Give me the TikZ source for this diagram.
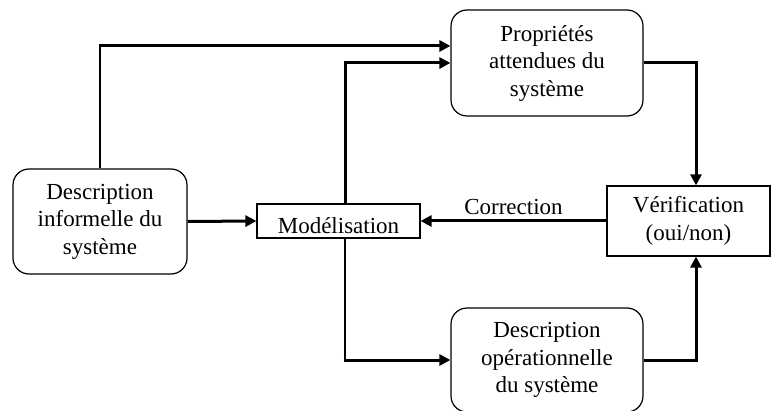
\documentclass[tikz,border=0pt]{standalone}
\usepackage{fontspec}
\setmainfont{Liberation Serif}
\usepackage{tikz}
\usetikzlibrary{arrows.meta}

\begin{document}
\begin{tikzpicture}[x=1pt,y=1pt,
  every node/.style={font=\fontsize{23}{27.5}\selectfont,align=center,inner sep=0pt},
  roundbox/.style={draw,line width=1.2pt,rounded corners=16pt},
  plainbox/.style={draw,line width=1.2pt},
  arr/.style={line width=3pt,-{Triangle[length=11pt,width=11pt]}},
  thinline/.style={line width=1.2pt}]
\useasboundingbox (0,0) rectangle (771,410);
% boxes
\node[roundbox,minimum width=174pt,minimum height=105pt] (informelle) at (100,188.5) {Description\\informelle du\\syst\`eme};
\node[plainbox,minimum width=163pt,minimum height=34pt,text height=26pt,text depth=0pt] (modelisation) at (338.5,189) {Mod\'elisation};
\node[roundbox,minimum width=192pt,minimum height=106pt] (proprietes) at (547,347) {Propri\'et\'es\\attendues du\\syst\`eme};
\node[plainbox,minimum width=163pt,minimum height=70pt] (verification) at (688.5,189) {V\'erification\\(oui/non)};
\node[roundbox,minimum width=192pt,minimum height=104pt] (operationnelle) at (547,50) {Description\\op\'erationnelle\\du syst\`eme};
% connectors
\draw[thinline] (informelle.north) -- (informelle.north |- proprietes.170);
\draw[arr] ([xshift=-0.6pt]informelle.north |- proprietes.170) -- (proprietes.170);
\draw[arr] (informelle.east) -- (modelisation.west);
\draw[arr] ([xshift=6.5pt]modelisation.north) |- (proprietes.west);
\draw[thinline] ([xshift=6.5pt]modelisation.south) -- ([xshift=6.5pt]modelisation.south |- operationnelle.west);
\draw[arr] ([xshift=5pt]modelisation.south |- operationnelle.west) -- (operationnelle.west);
\draw[arr] (proprietes.east) -| ([xshift=7.5pt]verification.north);
\draw[arr] (operationnelle.east) -| ([xshift=7.5pt]verification.south);
\draw[arr] (verification.west) -- node[above=5pt] (correction) {Correction} (modelisation.east);
\end{tikzpicture}
\end{document}
